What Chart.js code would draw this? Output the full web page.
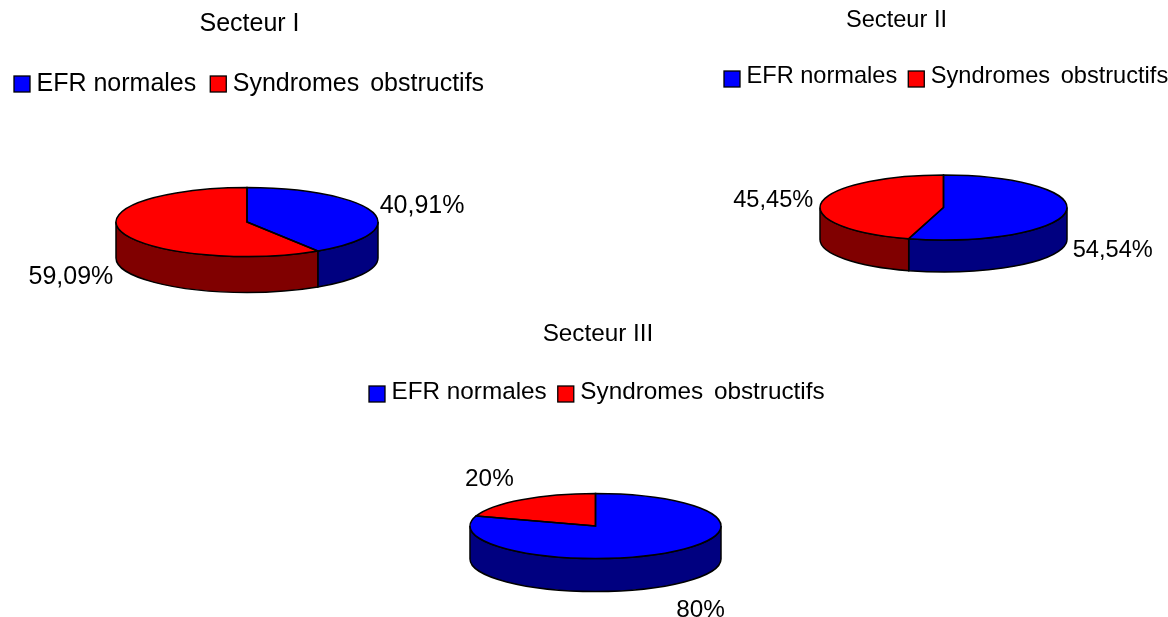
<!DOCTYPE html>
<html>
<head>
<meta charset="utf-8">
<title>Secteurs</title>
<script src="https://cdn.jsdelivr.net/npm/chart.js@4"></script>
<style>
  html, body { margin: 0; padding: 0; background: #fff; }
  body { position: relative; width: 1168px; height: 617px; overflow: hidden; }
  canvas { position: absolute; }
</style>
</head>
<body>
<canvas id="secteur1"></canvas>
<canvas id="secteur2"></canvas>
<canvas id="secteur3"></canvas>
<script>
// Data
const categories = ['EFR normales', 'Syndromes obstructifs'];
const sectorTitles = ['Secteur I', 'Secteur II', 'Secteur III'];
const secteur1Values = [40.91, 59.09];
const secteur2Values = [54.54, 45.45];
const secteur3Values = [80, 20];

const topColors = ['#0000ff', '#ff0000'];
const wallColors = ['#000080', '#800000'];
const fontFamily = '"Liberation Sans", Arial, sans-serif';

// Placement of each chart on the page (page pixels)
const layouts = [
    { id: 'secteur1', values: secteur1Values, left: 0, top: 0, width: 499, height: 310, cx: 247, cy: 222, rx: 131, ry: 34.5, depth: 36, font: 25, titleTop: 9, legendX: 14, legendGap: 14, legendBoxY: 76, legendTextY: 84 },
    { id: 'secteur2', values: secteur2Values, left: 625, top: 0, width: 543, height: 315, cx: 943.5, cy: 207.5, rx: 123.5, ry: 32.5, depth: 32, font: 23.6, titleTop: 6.5, legendX: 724, legendGap: 11, legendBoxY: 71, legendTextY: 76 },
    { id: 'secteur3', values: secteur3Values, left: 348, top: 315, width: 500, height: 302, cx: 595.5, cy: 526, rx: 125.5, ry: 32.5, depth: 33, font: 24.3, titleTop: 4.5, legendX: 369, legendGap: 11, legendBoxY: 386, legendTextY: 392 }
];

// Draws the side wall, flattens the pie and adds outlines, legend and value labels
const pie3d = {
    id: 'pie3d',
    beforeDatasetsDraw(chart, args, opts) {
        const ctx = chart.ctx;
        const arcs = chart.getDatasetMeta(0).data;
        const c = center(opts);

        // front wall, only the part of each slice in the lower half is visible
        arcs.forEach((arc, i) => {
            const a1 = Math.max(arc.startAngle, 0);
            const a2 = Math.min(arc.endAngle, Math.PI);
            if (a2 <= a1) return;
            ctx.beginPath();
            ctx.ellipse(c.x, c.y, opts.rx, opts.ry, 0, a1, a2);
            ctx.ellipse(c.x, c.y + opts.depth, opts.rx, opts.ry, 0, a2, a1, true);
            ctx.closePath();
            ctx.fillStyle = wallColors[i];
            ctx.fill();
            ctx.strokeStyle = '#000';
            ctx.lineWidth = 1.5;
            ctx.stroke();
        });

        // the library draws the slices through this squashed transform
        const r = arcs[0].outerRadius;
        ctx.save();
        ctx.translate(c.x, c.y);
        ctx.scale(opts.rx / r, opts.ry / r);
        ctx.translate(-arcs[0].x, -arcs[0].y);
    },
    afterDatasetsDraw(chart, args, opts) {
        const ctx = chart.ctx;
        ctx.restore();
        const arcs = chart.getDatasetMeta(0).data;
        const c = center(opts);

        arcs.forEach(arc => {
            ctx.beginPath();
            ctx.moveTo(c.x, c.y);
            ctx.ellipse(c.x, c.y, opts.rx, opts.ry, 0, arc.startAngle, arc.endAngle);
            ctx.closePath();
            ctx.strokeStyle = '#000';
            ctx.lineWidth = 1.5;
            ctx.stroke();
        });

        ctx.font = opts.font + 'px ' + fontFamily;
        ctx.fillStyle = '#000';
        ctx.textBaseline = 'middle';

        // value labels sit outside the rim at the middle of their slice
        arcs.forEach((arc, i) => {
            const mid = (arc.startAngle + arc.endAngle) / 2;
            const lower = Math.sin(mid) > 0;
            const right = Math.cos(mid) > 0;
            const x = c.x + opts.rx * Math.cos(mid) + (right ? 7 : -8);
            const y = c.y + opts.ry * Math.sin(mid) + (lower ? opts.depth : 0) + 28 * Math.sin(mid) + 2;
            ctx.textAlign = right ? 'left' : 'right';
            ctx.fillText(String(opts.values[i]).replace('.', ',') + '%', x, y);
        });

        // legend row, the long label has a wider word gap in the original
        ctx.textAlign = 'left';
        let x = opts.legendX - opts.left;
        categories.forEach((name, i) => {
            ctx.fillStyle = topColors[i];
            ctx.fillRect(x, opts.legendBoxY - opts.top, 16, 16);
            ctx.strokeStyle = '#000';
            ctx.lineWidth = 1.3;
            ctx.strokeRect(x, opts.legendBoxY - opts.top, 16, 16);
            ctx.fillStyle = '#000';
            ctx.wordSpacing = i === 1 ? '4px' : '0px';
            ctx.fillText(name, x + 22.5, opts.legendTextY - opts.top);
            x += 22.5 + ctx.measureText(name).width + opts.legendGap;
        });
        ctx.wordSpacing = '0px';
    }
};

function center(opts) {
    return { x: opts.cx - opts.left, y: opts.cy - opts.top };
}

layouts.forEach((layout, n) => {
    const canvas = document.getElementById(layout.id);
    canvas.width = layout.width;
    canvas.height = layout.height;
    canvas.style.left = layout.left + 'px';
    canvas.style.top = layout.top + 'px';

    new Chart(canvas.getContext('2d'), {
        type: 'pie',
        data: {
            labels: categories,
            datasets: [{
                data: layout.values,
                backgroundColor: topColors,
                borderWidth: 0
            }]
        },
        options: {
            responsive: false,
            animation: false,
            events: [],
            layout: { padding: 0 },
            plugins: {
                title: {
                    display: true,
                    text: sectorTitles[n],
                    color: '#000',
                    font: { family: fontFamily, size: layout.font, weight: 'normal', lineHeight: 1.2 },
                    padding: { top: layout.titleTop, bottom: 0 }
                },
                legend: { display: false },
                tooltip: { enabled: false },
                pie3d: layout
            }
        },
        plugins: [pie3d]
    });
});
</script>
</body>
</html>
